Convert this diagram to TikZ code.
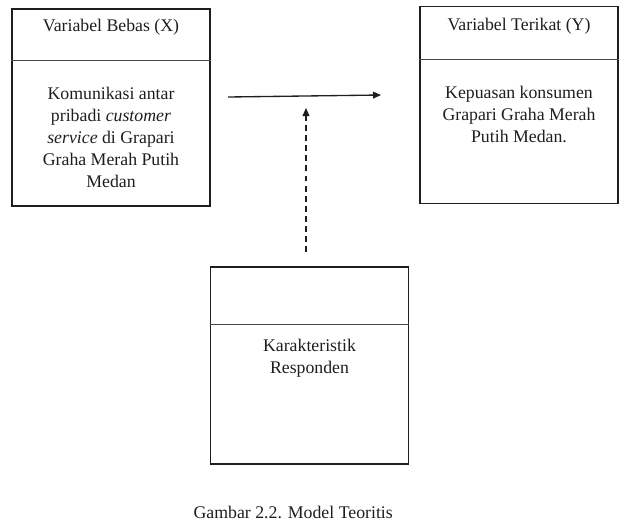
\documentclass[tikz,border=0pt]{standalone}
\usepackage{fontspec}
\setmainfont{Liberation Serif}
\usepackage{xcolor}
\usetikzlibrary{arrows.meta,positioning}
\definecolor{Ink}{HTML}{1E1E1E}
\definecolor{Rule}{HTML}{4A4A4A}
\tikzset{
  panel/.style={draw=Ink,line width=0.9pt,minimum width=133.6pt,minimum height=133pt,inner sep=0pt},
  divider/.style={draw=Rule,line width=0.6pt},
  head/.style={inner sep=0pt,font=\fontsize{12}{14.8}\selectfont,text=Ink},
  body/.style={inner sep=0pt,align=center,font=\fontsize{12}{14.8}\selectfont,text=Ink},
  arr/.style={-{Triangle[length=5.4pt,width=4.6pt]},draw=Ink,line width=0.9pt},
  dasharr/.style={arr,dash pattern=on 4pt off 2.8pt}
}

\begin{document}
\begin{tikzpicture}[x=0.675pt,y=-0.675pt]
  \useasboundingbox (0,0) rectangle (627,522);
  % boxes
  \node[panel] (bebas) at (111,107.5) {};
  \node[panel] (terikat) at (519,105) {};
  \node[panel] (responden) at (309.5,365.5) {};
  \coordinate (bebas-div) at ([yshift=-35pt]bebas.north);
  \coordinate (terikat-div) at ([yshift=-36.5pt]terikat.north);
  \coordinate (responden-div) at ([yshift=-39pt]responden.north);
  \draw[divider] (bebas.west |- bebas-div) -- (bebas.east |- bebas-div);
  \draw[divider] (terikat.west |- terikat-div) -- (terikat.east |- terikat-div);
  \draw[divider] (responden.west |- responden-div) -- (responden.east |- responden-div);
  % texts
  \node[head,below=6.8pt of bebas.north] (bebas-head) {Variabel Bebas (X)};
  \node[head,below=8pt of terikat.north] (terikat-head) {Variabel Terikat (Y)};
  \node[body,below=18pt of bebas-div] (bebas-body) {Komunikasi antar\\pribadi \textit{customer}\\\textit{service} di Grapari\\Graha Merah Putih\\Medan};
  \node[body,below=17.5pt of terikat-div] (terikat-body) {Kepuasan konsumen\\Grapari Graha Merah\\Putih Medan.};
  \node[body,below=10pt of responden-div] (responden-body) {Karakteristik\\Responden};
  \node[head,below=27.7pt of responden.south,xshift=-11pt] (caption) {Gambar 2.2. Model Teoritis};
  % links
  \coordinate (cause) at (228,97);
  \coordinate (effect) at (381,95);
  \coordinate (mod) at (306,252);
  \coordinate (mod-end) at (306,108);
  \draw[arr] (cause) -- (effect);
  \draw[dasharr] (mod) -- (mod-end);
\end{tikzpicture}
\end{document}
